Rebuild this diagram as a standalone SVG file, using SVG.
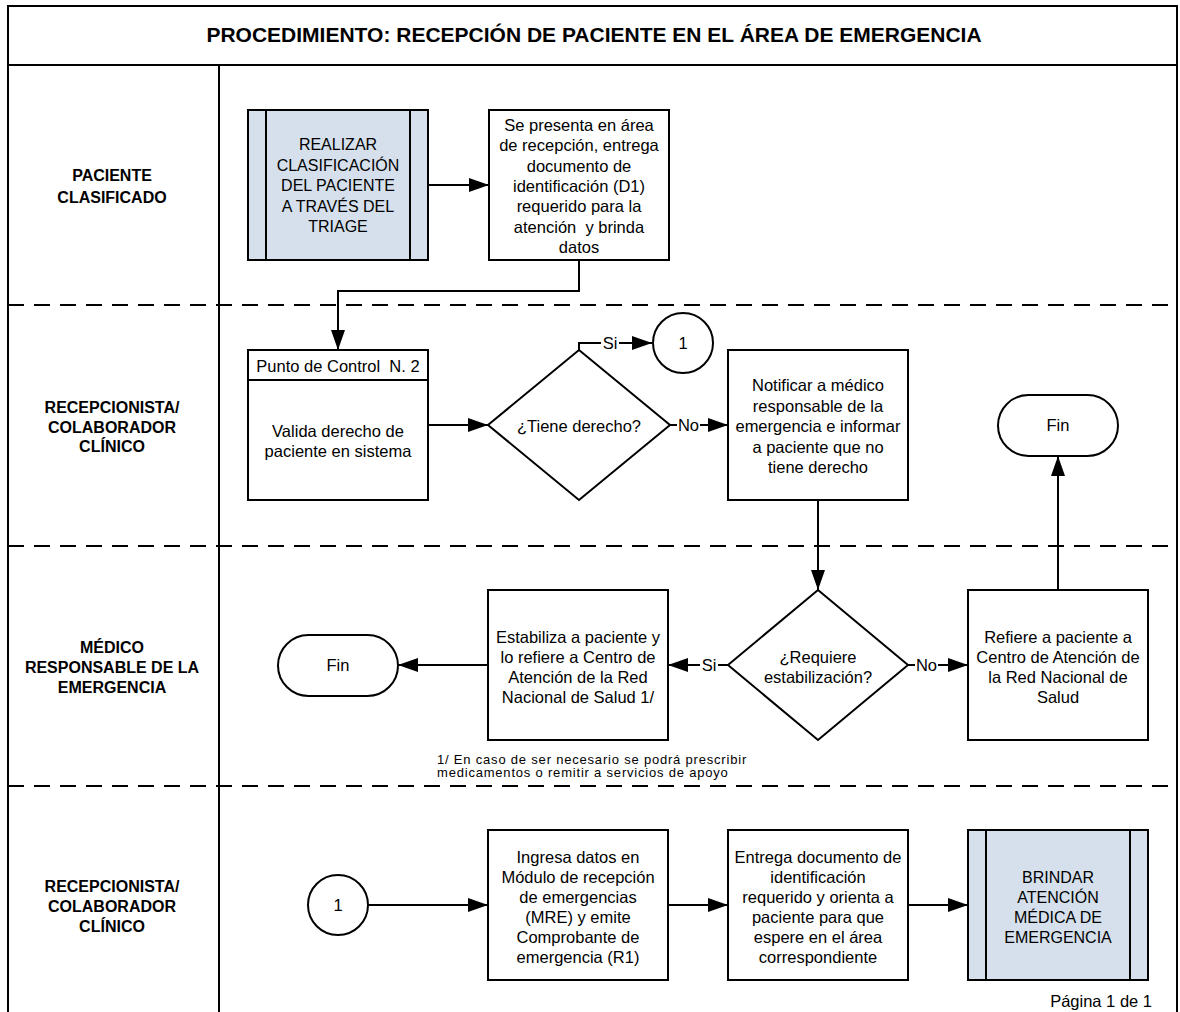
<svg xmlns="http://www.w3.org/2000/svg" width="1180" height="1012" viewBox="0 0 1180 1012">
  <defs>
    <marker id="arrow" markerUnits="userSpaceOnUse" markerWidth="20" markerHeight="14" refX="20" refY="7" orient="auto">
      <path d="M0,0 L20,7 L0,14 Z" fill="#000"/>
    </marker>
    <style>
      .frame { fill: none; stroke: #000; stroke-width: 2; }
      .dash { fill: none; stroke: #000; stroke-width: 2; stroke-dasharray: 16 10; }
      .box { fill: #fff; stroke: #000; stroke-width: 2; }
      .sub { fill: #d6e0ec; stroke: #000; stroke-width: 2; }
      .line { fill: none; stroke: #000; stroke-width: 2; }
      .conn { fill: none; stroke: #000; stroke-width: 2; marker-end: url(#arrow); }
      .t { font-family: "Liberation Sans", Arial, sans-serif; font-size: 16.5px; fill: #000; text-anchor: middle; }
      .lane { font-family: "Liberation Sans", Arial, sans-serif; font-size: 16px; font-weight: bold; fill: #000; text-anchor: middle; }
      .title { font-family: "Liberation Sans", Arial, sans-serif; font-size: 21px; font-weight: bold; fill: #000; text-anchor: middle; }
      .lbl { font-family: "Liberation Sans", Arial, sans-serif; font-size: 16.5px; fill: #000; text-anchor: middle; }
      .note { font-family: "Liberation Sans", Arial, sans-serif; font-size: 13px; letter-spacing: 0.8px; fill: #000; }
    </style>
  </defs>

  <rect width="1180" height="1012" fill="#fff"/>

  <!-- swimlane frame -->
  <g id="frame">
    <path class="frame" d="M8,1012 V6 H1177 V1012"/>
    <line class="frame" x1="8" y1="65" x2="1177" y2="65"/>
    <line class="frame" x1="219" y1="65" x2="219" y2="1012"/>
    <line class="dash" x1="8" y1="305" x2="1177" y2="305"/>
    <line class="dash" x1="8" y1="546" x2="1177" y2="546"/>
    <line class="dash" x1="8" y1="786" x2="1177" y2="786"/>
    <text class="title" x="594" y="42">PROCEDIMIENTO: RECEPCIÓN DE PACIENTE EN EL ÁREA DE EMERGENCIA</text>
  </g>

  <!-- lane headers -->
  <g id="lane-paciente">
    <text class="lane" x="112" y="181">PACIENTE</text>
    <text class="lane" x="112" y="203">CLASIFICADO</text>
  </g>
  <g id="lane-recepcion-1">
    <text class="lane" x="112" y="413">RECEPCIONISTA/</text>
    <text class="lane" x="112" y="432.5">COLABORADOR</text>
    <text class="lane" x="112" y="452">CLÍNICO</text>
  </g>
  <g id="lane-medico">
    <text class="lane" x="112" y="653">MÉDICO</text>
    <text class="lane" x="112" y="673">RESPONSABLE DE LA</text>
    <text class="lane" x="112" y="693">EMERGENCIA</text>
  </g>
  <g id="lane-recepcion-2">
    <text class="lane" x="112" y="892">RECEPCIONISTA/</text>
    <text class="lane" x="112" y="912">COLABORADOR</text>
    <text class="lane" x="112" y="932">CLÍNICO</text>
  </g>

  <!-- connectors -->
  <g id="connectors">
    <path class="conn" d="M428,185 H489"/>
    <path class="conn" d="M579,260 V291 H338 V350"/>
    <path class="conn" d="M428,425 H488"/>
    <path class="conn" d="M579,350 V343 H652"/>
    <path class="conn" d="M670,425 H728"/>
    <path class="conn" d="M818,500 V590"/>
    <path class="conn" d="M1058,590 V456"/>
    <path class="conn" d="M728,665 H668"/>
    <path class="conn" d="M488,665 H398"/>
    <path class="conn" d="M908,665 H968"/>
    <path class="conn" d="M368,905 H488"/>
    <path class="conn" d="M668,905 H728"/>
    <path class="conn" d="M908,905 H968"/>
    <!-- branch labels -->
    <rect x="601" y="333" width="18" height="20" fill="#fff"/>
    <text class="lbl" x="610" y="349">Si</text>
    <rect x="677" y="415" width="23" height="20" fill="#fff"/>
    <text class="lbl" x="688.5" y="431">No</text>
    <rect x="700" y="655" width="18" height="20" fill="#fff"/>
    <text class="lbl" x="709" y="671">Si</text>
    <rect x="915" y="655" width="23" height="20" fill="#fff"/>
    <text class="lbl" x="926.5" y="671">No</text>
  </g>

  <!-- lane 1 -->
  <g id="n-triage">
    <rect class="sub" x="248" y="110" width="180" height="150"/>
    <line class="line" x1="266" y1="110" x2="266" y2="260"/>
    <line class="line" x1="410" y1="110" x2="410" y2="260"/>
    <text class="t" x="338" y="150" style="font-size:16px">REALIZAR</text>
    <text class="t" x="338" y="170.5" style="font-size:16px">CLASIFICACIÓN</text>
    <text class="t" x="338" y="191" style="font-size:16px">DEL PACIENTE</text>
    <text class="t" x="338" y="211.5" style="font-size:16px">A TRAVÉS DEL</text>
    <text class="t" x="338" y="232" style="font-size:16px">TRIAGE</text>
  </g>
  <g id="n-presenta">
    <rect class="box" x="489" y="110" width="180" height="150"/>
    <text class="t" x="579" y="131">Se presenta en área</text>
    <text class="t" x="579" y="151.3">de recepción, entrega</text>
    <text class="t" x="579" y="171.6">documento de</text>
    <text class="t" x="579" y="191.9">identificación (D1)</text>
    <text class="t" x="579" y="212.2">requerido para la</text>
    <text class="t" x="579" y="232.5" xml:space="preserve">atención  y brinda</text>
    <text class="t" x="579" y="252.8">datos</text>
  </g>

  <!-- lane 2 -->
  <g id="n-valida">
    <rect class="box" x="248" y="350" width="180" height="150"/>
    <line class="line" x1="248" y1="380" x2="428" y2="380"/>
    <text class="t" x="338" y="372" xml:space="preserve">Punto de Control  N. 2</text>
    <text class="t" x="338" y="437">Valida derecho de</text>
    <text class="t" x="338" y="457">paciente en sistema</text>
  </g>
  <g id="n-tiene-derecho">
    <polygon class="box" points="579,350 670,425 579,500 488,425"/>
    <text class="t" x="579" y="432">¿Tiene derecho?</text>
  </g>
  <g id="n-conector-1a">
    <circle class="box" cx="683" cy="343" r="30"/>
    <text class="t" x="683" y="349">1</text>
  </g>
  <g id="n-notificar">
    <rect class="box" x="728" y="350" width="180" height="150"/>
    <text class="t" x="818" y="391">Notificar a médico</text>
    <text class="t" x="818" y="411.5">responsable de la</text>
    <text class="t" x="818" y="432">emergencia e informar</text>
    <text class="t" x="818" y="452.5">a paciente que no</text>
    <text class="t" x="818" y="473">tiene derecho</text>
  </g>
  <g id="n-fin-1">
    <rect class="box" x="998" y="395" width="120" height="61" rx="30.5" ry="30.5"/>
    <text class="t" x="1058" y="431">Fin</text>
  </g>

  <!-- lane 3 -->
  <g id="n-fin-2">
    <rect class="box" x="278" y="635" width="120" height="61" rx="30.5" ry="30.5"/>
    <text class="t" x="338" y="671">Fin</text>
  </g>
  <g id="n-estabiliza">
    <rect class="box" x="488" y="590" width="180" height="150"/>
    <text class="t" x="578" y="643">Estabiliza a paciente y</text>
    <text class="t" x="578" y="663">lo refiere a Centro de</text>
    <text class="t" x="578" y="683">Atención de la Red</text>
    <text class="t" x="578" y="703">Nacional de Salud 1/</text>
  </g>
  <g id="n-requiere">
    <polygon class="box" points="818,590 908,665 818,740 728,665"/>
    <text class="t" x="818" y="663">¿Requiere</text>
    <text class="t" x="818" y="683">estabilización?</text>
  </g>
  <g id="n-refiere">
    <rect class="box" x="968" y="590" width="180" height="150"/>
    <text class="t" x="1058" y="643">Refiere a paciente a</text>
    <text class="t" x="1058" y="663">Centro de Atención de</text>
    <text class="t" x="1058" y="683">la Red Nacional de</text>
    <text class="t" x="1058" y="703">Salud</text>
  </g>
  <g id="n-nota">
    <text class="note" x="437" y="764">1/ En caso de ser necesario se podrá prescribir</text>
    <text class="note" x="437" y="777">medicamentos o remitir a servicios de apoyo</text>
  </g>

  <!-- lane 4 -->
  <g id="n-conector-1b">
    <circle class="box" cx="338" cy="905" r="30"/>
    <text class="t" x="338" y="911">1</text>
  </g>
  <g id="n-ingresa">
    <rect class="box" x="488" y="830" width="180" height="150"/>
    <text class="t" x="578" y="863">Ingresa datos en</text>
    <text class="t" x="578" y="883">Módulo de recepción</text>
    <text class="t" x="578" y="903">de emergencias</text>
    <text class="t" x="578" y="923">(MRE) y emite</text>
    <text class="t" x="578" y="943">Comprobante de</text>
    <text class="t" x="578" y="963">emergencia (R1)</text>
  </g>
  <g id="n-entrega">
    <rect class="box" x="728" y="830" width="180" height="150"/>
    <text class="t" x="818" y="863">Entrega documento de</text>
    <text class="t" x="818" y="883">identificación</text>
    <text class="t" x="818" y="903">requerido y orienta a</text>
    <text class="t" x="818" y="923">paciente para que</text>
    <text class="t" x="818" y="943">espere en el área</text>
    <text class="t" x="818" y="963">correspondiente</text>
  </g>
  <g id="n-brindar">
    <rect class="sub" x="968" y="830" width="180" height="150"/>
    <line class="line" x1="986" y1="830" x2="986" y2="980"/>
    <line class="line" x1="1130" y1="830" x2="1130" y2="980"/>
    <text class="t" x="1058" y="883" style="font-size:16px">BRINDAR</text>
    <text class="t" x="1058" y="903" style="font-size:16px">ATENCIÓN</text>
    <text class="t" x="1058" y="923" style="font-size:16px">MÉDICA DE</text>
    <text class="t" x="1058" y="943" style="font-size:16px">EMERGENCIA</text>
  </g>

  <text class="lbl" x="1152" y="1007" style="text-anchor:end">Página 1 de 1</text>
</svg>
